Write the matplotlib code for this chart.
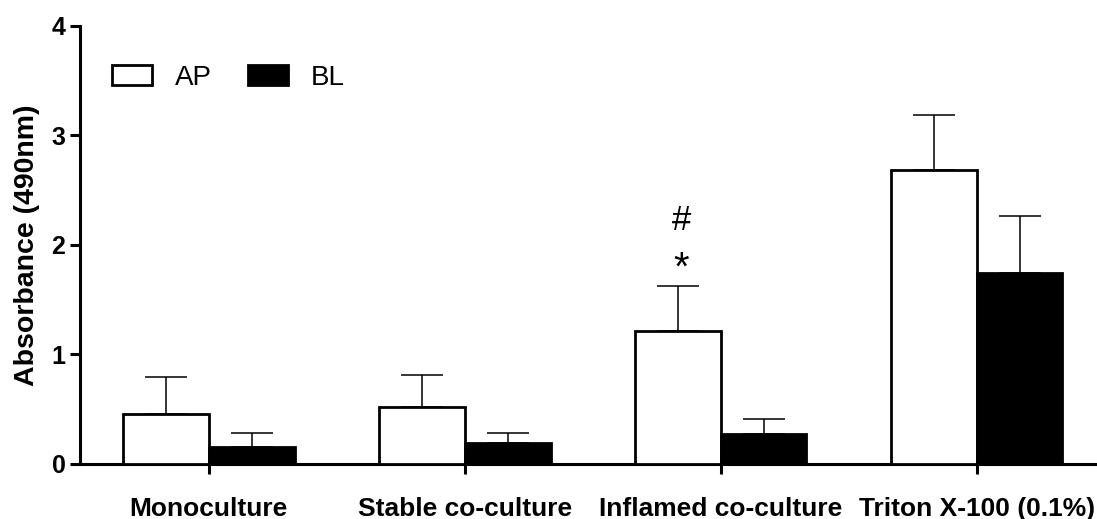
import numpy as np
import matplotlib
matplotlib.use("Agg")
import matplotlib.pyplot as plt

plt.rcParams['font.family'] = ['Liberation Sans', 'DejaVu Sans']

# data
groups = ['Monoculture', 'Stable co-culture', 'Inflamed co-culture', 'Triton X-100 (0.1%)']
ap_mean = [0.45, 0.52, 1.21, 2.68]
ap_err = [0.34, 0.29, 0.41, 0.51]
bl_mean = [0.15, 0.19, 0.27, 1.74]
bl_err = [0.13, 0.09, 0.14, 0.52]

x = np.arange(len(groups))
w = 0.335

fig = plt.figure(figsize=(10.97, 5.19), dpi=100)
ax = fig.add_axes([0.073, 0.1066, 0.927, 0.8434])

err_kw = dict(ecolor='black', elinewidth=1.1, capsize=15, capthick=1.1)
ax.bar(x - w / 2, ap_mean, w, color='white', edgecolor='black', linewidth=2,
       yerr=[np.zeros(4), ap_err], error_kw=err_kw, label='AP', zorder=3)
ax.bar(x + w / 2, bl_mean, w, color='black', edgecolor='black', linewidth=2,
       yerr=[np.zeros(4), bl_err], error_kw=err_kw, label='BL', zorder=3)

# significance marks above inflamed co-culture AP
ax.text(x[2] - w / 2 + 0.012, 1.78, '*', ha='center', va='center', fontsize=29)
ax.text(x[2] - w / 2 + 0.015, 2.22, '#', ha='center', va='center', fontsize=25)

ax.set_xlim(-0.503, 3.47)
ax.set_ylim(0, 4)
ax.set_yticks([0, 1, 2, 3, 4])
ax.set_xticks(x)
ax.set_xticklabels(groups, fontsize=19, fontweight='bold')
ax.tick_params(axis='y', labelsize=18, width=2.2, length=7, direction='out')
ax.tick_params(axis='x', width=2.2, length=7, direction='out', pad=17)
for t in ax.get_yticklabels():
    t.set_fontweight('bold')
ax.set_ylabel('Absorbance (490nm)', fontsize=20.5, fontweight='bold', labelpad=8)

for s in ['top', 'right']:
    ax.spines[s].set_visible(False)
for s in ['left', 'bottom']:
    ax.spines[s].set_linewidth(2.2)

leg = ax.legend(loc='upper left', bbox_to_anchor=(0.007, 0.969), ncol=2, frameon=False,
                fontsize=20, handlelength=1.45, handleheight=0.75, columnspacing=1.3,
                handletextpad=0.8)

fig.savefig('out.png', dpi=100)
